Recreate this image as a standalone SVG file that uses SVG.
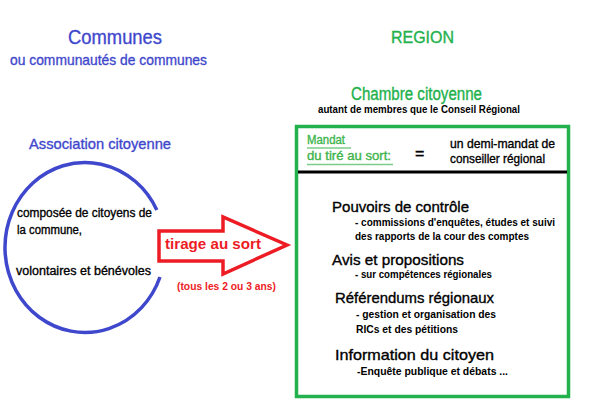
<svg xmlns="http://www.w3.org/2000/svg" width="600" height="419" viewBox="0 0 600 419">
<style>
text{font-family:"Liberation Sans",Arial,sans-serif;stroke-width:0.35;}
.blue{fill:#3f48cc;stroke:#3f48cc;}
.green{fill:#22b14c;stroke:#22b14c;}
.lgreen{fill:#3cb44b;stroke:#3cb44b;}
.red{fill:#ed1c24;}
.blk{fill:#000;stroke:#000;}
.b{font-weight:bold;stroke:none;}
</style>
<rect width="600" height="419" fill="#fff"/>
<g id="communes-title">
<text class="blue" x="68" y="44" font-size="20" textLength="94" lengthAdjust="spacingAndGlyphs">Communes</text>
<text class="blue" x="10" y="65" font-size="15" textLength="197" lengthAdjust="spacingAndGlyphs">ou communautés de communes</text>
</g>
<g id="association">
<text class="blue" x="29" y="149" font-size="15" textLength="142" lengthAdjust="spacingAndGlyphs">Association citoyenne</text>
<path d="M156.8 210 A80 85 0 1 0 160 277" fill="none" stroke="#3f48cc" stroke-width="3.5"/>
<text class="blk" x="17" y="217" font-size="12.5" textLength="135" lengthAdjust="spacingAndGlyphs">composée de citoyens de</text>
<text class="blk" x="17" y="234" font-size="12.5" textLength="65" lengthAdjust="spacingAndGlyphs">la commune,</text>
<text class="blk" x="16" y="275" font-size="12.5" textLength="135" lengthAdjust="spacingAndGlyphs">volontaires et bénévoles</text>
</g>
<g id="region-title">
<text class="green" x="391" y="43" font-size="17" textLength="63" lengthAdjust="spacingAndGlyphs">REGION</text>
</g>
<g id="chambre">
<text class="green" x="351" y="100" font-size="18" textLength="131" lengthAdjust="spacingAndGlyphs">Chambre citoyenne</text>
<text class="blk b" x="318" y="113" font-size="10.5" textLength="202" lengthAdjust="spacingAndGlyphs">autant de membres que le Conseil Régional</text>
<rect x="296.5" y="126.5" width="272" height="270" fill="none" stroke="#22b14c" stroke-width="3.5"/>
<text class="lgreen" x="307" y="144" font-size="12.5" textLength="38" lengthAdjust="spacingAndGlyphs">Mandat</text>
<line x1="307" y1="148" x2="351" y2="148" stroke="#7ccc8a" stroke-width="1.5"/>
<text class="lgreen" x="307" y="160" font-size="12.5" textLength="84" lengthAdjust="spacingAndGlyphs">du tiré au sort:</text>
<line x1="307" y1="164.5" x2="393" y2="164.5" stroke="#7ccc8a" stroke-width="1.5"/>
<text class="blk" x="415" y="158.5" font-size="16">=</text>
<text class="blk" x="450" y="148" font-size="13" textLength="105" lengthAdjust="spacingAndGlyphs">un demi-mandat de</text>
<text class="blk" x="450" y="163" font-size="13" textLength="95" lengthAdjust="spacingAndGlyphs">conseiller régional</text>
<line x1="298" y1="172" x2="567" y2="172" stroke="#000" stroke-width="3"/>
<text class="blk" x="332" y="212" font-size="15" textLength="137" lengthAdjust="spacingAndGlyphs">Pouvoirs de contrôle</text>
<text class="blk b" x="355" y="226" font-size="10.5" textLength="200" lengthAdjust="spacingAndGlyphs">- commissions d'enquêtes, études et suivi</text>
<text class="blk b" x="355" y="240" font-size="10.5" textLength="174" lengthAdjust="spacingAndGlyphs">des rapports de la cour des comptes</text>
<text class="blk" x="332" y="265" font-size="15" textLength="132" lengthAdjust="spacingAndGlyphs">Avis et propositions</text>
<text class="blk b" x="355" y="278" font-size="10.5" textLength="137" lengthAdjust="spacingAndGlyphs">- sur compétences régionales</text>
<text class="blk" x="335" y="303" font-size="15" textLength="159" lengthAdjust="spacingAndGlyphs">Référendums régionaux</text>
<text class="blk b" x="356" y="318" font-size="10.5" textLength="140" lengthAdjust="spacingAndGlyphs">- gestion et organisation des</text>
<text class="blk b" x="356" y="333" font-size="10.5" textLength="102" lengthAdjust="spacingAndGlyphs">RICs et des pétitions</text>
<text class="blk" x="335" y="360" font-size="15" textLength="159" lengthAdjust="spacingAndGlyphs">Information du citoyen</text>
<text class="blk b" x="357" y="375" font-size="10.5" textLength="151" lengthAdjust="spacingAndGlyphs">-Enquête publique et débats ...</text>
</g>
<g id="connectors">
<polygon points="159,231 223,231 223,217 287,245 223,274 223,261 159,261" fill="#fff" stroke="#ed1c24" stroke-width="3.5" stroke-linejoin="miter"/>
<text class="red b" x="165" y="249" font-size="15" textLength="96" lengthAdjust="spacingAndGlyphs">tirage au sort</text>
<text class="red b" x="177" y="290" font-size="10.5" textLength="99" lengthAdjust="spacingAndGlyphs">(tous les 2 ou 3 ans)</text>
</g>
</svg>
